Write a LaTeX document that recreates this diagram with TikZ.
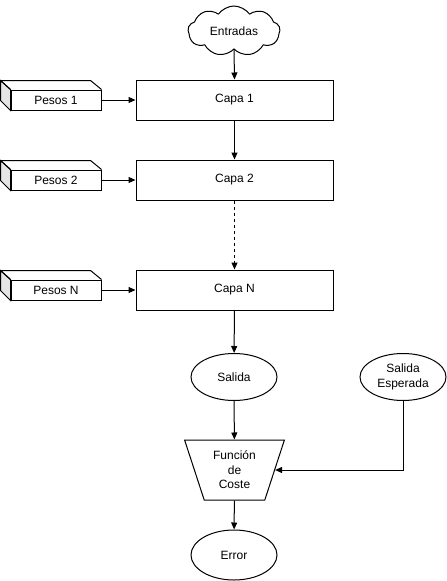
\documentclass[tikz,border=0pt]{standalone}
\usepackage{fontspec}
\setmainfont{Liberation Sans}
\usetikzlibrary{shapes.geometric,shapes.symbols,arrows.meta}
\begin{document}
\begin{tikzpicture}[x=1pt,y=-1pt, line width=1pt, font=\fontsize{12}{14.5}\selectfont,
 box/.style={draw, fill=white, minimum width=197pt, minimum height=40pt, inner sep=0pt},
 ell/.style={draw, fill=white, ellipse, minimum width=86pt, minimum height=47pt, inner sep=0pt, align=center},
 arr/.style={-{Triangle[length=7pt,width=6pt]}},
 face/.style={draw, fill=white, minimum width=90pt, minimum height=20pt, inner sep=0pt}]
\useasboundingbox (0,0) rectangle (447,581);
\node[cloud, draw, cloud puffs=9, cloud puff arc=110, aspect=1.9, minimum width=92pt, minimum height=50pt, inner sep=0pt] (in) at (234,31) {Entradas};
\node[box] (c1) at (234.5,100) {Capa 1};
\node[box] (c2) at (234.5,180) {Capa 2};
\node[box] (cn) at (234.5,290) {Capa N};
\node[face] (p1) at (56,100) {Pesos 1};
\node[face] (p2) at (56,180) {Pesos 2};
\node[face] (pn) at (56,290) {Pesos N};
\foreach \n in {p1,p2,pn}{
 \filldraw[fill=gray!20] (\n.north west) -- ++(-10,-9) -- ++(0,20) -- (\n.south west) -- cycle;
 \draw (\n.north west) -- ++(-10,-9) -- ++(90,0) -- (\n.north east);
}
\node[ell] (sal) at (234,377) {Salida};
\node[ell] (se) at (403,377) {Salida\\Esperada};
\node[draw, fill=white, trapezium, trapezium stretches=true, shape border rotate=180, minimum width=100pt, minimum height=60pt, trapezium left angle=70, trapezium right angle=70, align=center, inner sep=0pt] (fc) at (234.5,470) {Función\\de\\Coste};
\node[ell, minimum height=50pt] (err) at (234,555) {Error};
\draw[arr] (in.south) -- (c1.north);
\draw[arr] (c1) -- (c2);
\draw[arr, dash pattern=on 3pt off 3pt] (c2) -- (cn);
\draw[arr] (cn) -- (sal);
\draw[arr] (sal) -- (fc);
\draw[arr] (fc) -- (err);
\draw[arr] (se.south) |- (fc);
\draw[arr] (p1.east) -- (p1.east -| c1.west);
\draw[arr] (p2.east) -- (p2.east -| c2.west);
\draw[arr] (pn.east) -- (pn.east -| cn.west);
\end{tikzpicture}
\end{document}
